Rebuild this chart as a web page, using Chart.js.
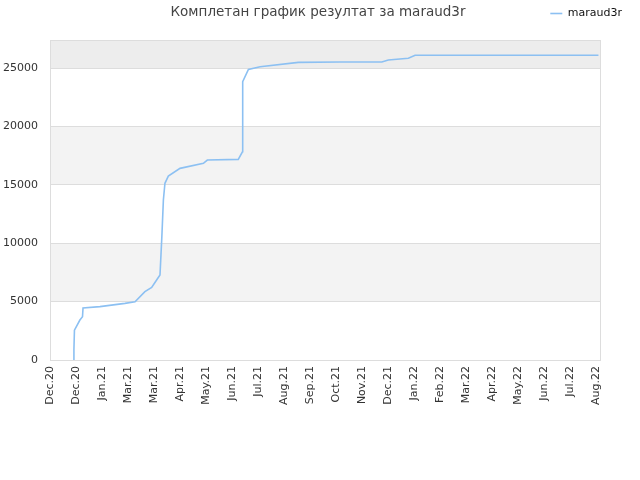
<!DOCTYPE html>
<html>
<head>
<meta charset="utf-8">
<script src="https://cdn.jsdelivr.net/npm/chart.js@4/dist/chart.umd.min.js"></script>
<style>
  html, body { margin: 0; padding: 0; background: #fff; }
</style>
</head>
<body>
<canvas id="resultChart" width="640" height="480"></canvas>
<script>
// chart data
var chartTitle = 'Комплетан график резултат за maraud3r';
var seriesName = 'maraud3r';
var monthLabels = ['Dec.20', 'Dec.20', 'Jan.21', 'Mar.21', 'Mar.21', 'Apr.21', 'May.21', 'Jun.21',
  'Jul.21', 'Aug.21', 'Sep.21', 'Oct.21', 'Nov.21', 'Dec.21', 'Jan.22', 'Feb.22', 'Mar.22',
  'Apr.22', 'May.22', 'Jun.22', 'Jul.22', 'Aug.22'];
// position along the month ticks (0 = first label) and score at that point
var pointPos = [0.91, 0.92, 0.94, 1.15, 1.25, 1.27, 1.92, 2.88, 3.27, 3.65, 3.91, 4.10, 4.23,
  4.30, 4.36, 4.42, 4.55, 5.00, 5.90, 6.05, 7.24, 7.40, 7.41, 7.63, 8.08, 9.55, 11.15, 12.76,
  13.01, 13.78, 14.04, 21.09];
var pointScore = [0, 900, 2550, 3420, 3700, 4450, 4570, 4850, 4990, 5850, 6220, 6850, 7280,
  10500, 13700, 15130, 15750, 16410, 16840, 17120, 17180, 17830, 23830, 24880, 25110, 25480,
  25510, 25510, 25690, 25830, 26090, 26090];
var yTicks = [0, 5000, 10000, 15000, 20000, 25000];

var points = pointPos.map(function (p, i) { return { x: p, y: pointScore[i] }; });

// alternating bands + frame behind the plot, title on top
var bandPlugin = {
  id: 'bands',
  beforeDraw: function (chart) {
    var a = chart.chartArea, y = chart.scales.y, ctx = chart.ctx;
    var stops = yTicks.slice();
    stops.push(y.max);
    ctx.save();
    for (var i = 1; i < stops.length - 1; i += 2) {
      var top = y.getPixelForValue(stops[i + 1]);
      var bot = y.getPixelForValue(stops[i]);
      ctx.fillStyle = (i === stops.length - 2) ? '#ededed' : '#f3f3f3';
      ctx.fillRect(a.left, top, a.right - a.left, bot - top);
    }
    ctx.strokeStyle = '#dddddd';
    ctx.lineWidth = 1;
    ctx.strokeRect(a.left + 0.5, a.top + 0.5, a.right - a.left, a.bottom - a.top);
    ctx.restore();
  },
  afterDraw: function (chart) {
    var ctx = chart.ctx;
    ctx.save();
    ctx.font = '13.5px "DejaVu Sans"';
    ctx.fillStyle = '#444';
    ctx.textAlign = 'center';
    ctx.textBaseline = 'middle';
    ctx.fillText(chartTitle, 318, 12);
    ctx.restore();
  }
};

// empty axes only used to reserve room round the plot
var spacer = function (size) {
  return {
    display: true,
    grid: { display: false, drawTicks: false },
    border: { display: false },
    ticks: { display: false },
    afterFit: function (scale) {
      if (scale.isHorizontal()) scale.height = size; else scale.width = size;
    }
  };
};

var xTop = spacer(11);
xTop.position = 'top';
xTop.type = 'linear';
var yRight = spacer(30);
yRight.position = 'right';

var ctx = document.getElementById('resultChart');
var myChart = new Chart(ctx, {
  type: 'line',
  data: {
    datasets: [{
      label: seriesName,
      data: points,
      borderColor: '#8cc0f2',
      backgroundColor: '#8cc0f2',
      borderWidth: 1.6,
      pointRadius: 0,
      fill: false,
      tension: 0
    }]
  },
  options: {
    responsive: false,
    animation: false,
    layout: { padding: { left: 0, right: 10, top: 0, bottom: 0 } },
    plugins: {
      legend: {
        position: 'top',
        align: 'end',
        labels: {
          usePointStyle: true,
          pointStyle: 'line',
          pointStyleWidth: 12,
          padding: 8,
          color: '#111',
          font: { family: 'DejaVu Sans', size: 11 }
        }
      },
      tooltip: { enabled: false }
    },
    scales: {
      x: {
        type: 'linear',
        min: 0,
        max: 21.15,
        afterBuildTicks: function (scale) {
          scale.ticks = monthLabels.map(function (l, i) { return { value: i }; });
        },
        afterFit: function (scale) { scale.height = 120; },
        grid: { display: false, drawTicks: false },
        border: { display: false },
        ticks: {
          autoSkip: false,
          minRotation: 90,
          maxRotation: 90,
          padding: 6,
          color: '#333',
          font: { family: 'DejaVu Sans', size: 11 },
          callback: function (v, i) { return monthLabels[i]; }
        }
      },
      xTop: xTop,
      y: {
        min: 0,
        max: 27400,
        afterBuildTicks: function (scale) {
          scale.ticks = yTicks.map(function (v) { return { value: v }; });
        },
        afterFit: function (scale) { scale.width = 50; },
        grid: { color: '#dddddd', drawTicks: false },
        border: { display: false },
        ticks: {
          padding: 12,
          color: '#333',
          font: { family: 'DejaVu Sans', size: 11 },
          callback: function (v) { return String(v); }
        }
      },
      yRight: yRight
    }
  },
  plugins: [bandPlugin]
});
</script>
</body>
</html>
